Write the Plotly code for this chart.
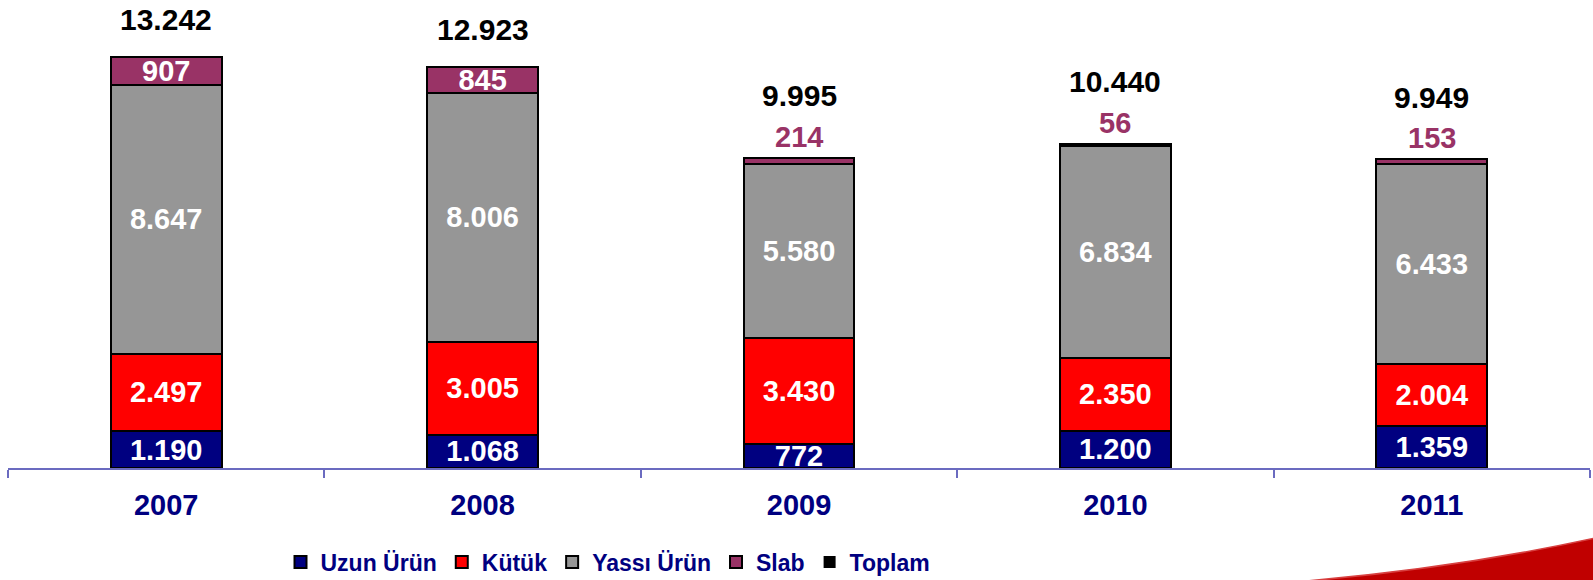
import plotly.graph_objects as go

years = ["2007", "2008", "2009", "2010", "2011"]
uzun = [1190, 1068, 772, 1200, 1359]
kutuk = [2497, 3005, 3430, 2350, 2004]
yassi = [8647, 8006, 5580, 6834, 6433]
slab = [907, 845, 214, 56, 153]
toplam = [13242, 12923, 9995, 10440, 9949]

NAVY = "#000080"
RED = "#FF0000"
GRAY = "#969696"
SLAB = "#993366"
FONT = "Liberation Sans, Arial, sans-serif"

W, H = 1593, 580
ML, MR, MT, MB = 8, 3, 10, 112
YMAX = 14755

fig = go.Figure()

def add_bar(name, vals, color, textpos="inside"):
    fig.add_trace(go.Bar(
        name=name, x=years, y=vals,
        marker=dict(color=color, line=dict(color="black", width=2)),
        width=0.35,
        texttemplate="%{y:,.0f}",
        textposition=textpos,
        insidetextanchor="middle",
        textfont=dict(family=FONT, size=29, color="white", weight="bold"),
        hoverinfo="skip",
    ))

add_bar("Uzun Ürün", uzun, NAVY)
add_bar("Kütük", kutuk, RED)
add_bar("Yassı Ürün", yassi, GRAY)

# slab labels inside when segment tall enough, else annotated above
slab_inside = [v >= 500 for v in slab]
add_bar("Slab", slab, SLAB, ["inside" if s else "none" for s in slab_inside])

fig.add_trace(go.Scatter(
    name="Toplam", x=years, y=toplam, mode="markers",
    marker=dict(color="black", size=1, symbol="square"),
    hoverinfo="skip",
))

def fmt(v):
    return f"{v:,}".replace(",", ".")

annotations = []
for i, (s, t, inside) in enumerate(zip(slab, toplam, slab_inside)):
    if not inside:
        annotations.append(dict(
            x=i, y=t, xref="x", yref="y", text=fmt(s),
            showarrow=False, yshift=21,
            font=dict(family=FONT, size=29, color=SLAB, weight="bold"),
        ))
    annotations.append(dict(
        x=i, y=t, xref="x", yref="y", text=fmt(t),
        showarrow=False, yshift=37 if inside else 62,
        font=dict(family=FONT, size=30, color="black", weight="bold"),
    ))

pw = W - ML - MR
ph = H - MT - MB
def px(x):
    return (x - ML) / pw
def py(y):
    return (H - MB - y) / ph

swoosh = (f"M {px(1282)},{py(583)} Q {px(1450)},{py(570)} {px(1600)},{py(537)} "
          f"L {px(1600)},{py(583)} Z")

fig.update_layout(
    width=W, height=H,
    margin=dict(l=ML, r=MR, t=MT, b=MB, autoexpand=False),
    barmode="stack",
    separators=",.",
    plot_bgcolor="white",
    paper_bgcolor="white",
    uniformtext=dict(minsize=29, mode="show"),
    xaxis=dict(
        type="category",
        range=[-0.5, 4.5], automargin=False,
        showline=True, linecolor="#6B6BC0", linewidth=1.5,
        ticks="outside", tickson="boundaries", ticklen=8, tickcolor="#6B6BC0",
        tickwidth=1.5,
        tickfont=dict(family=FONT, size=29, color=NAVY, weight="bold"),
        ticklabelstandoff=10,
        showgrid=False, zeroline=False,
    ),
    yaxis=dict(range=[0, YMAX], visible=False, showgrid=False, zeroline=False,
               automargin=False),
    legend=dict(
        orientation="h", x=px(608), y=py(562), xanchor="center", yanchor="middle",
        font=dict(family=FONT, size=23, color=NAVY, weight="bold"),
        itemsizing="constant", itemwidth=30, traceorder="normal",
        bgcolor="rgba(0,0,0,0)",
    ),
    annotations=annotations,
    shapes=[dict(type="path", path=swoosh, xref="paper", yref="paper",
                 fillcolor="#C00000", line=dict(color="#D84040", width=1.5),
                 layer="above")],
)

fig.write_html(
    "out.html",
    config={"displayModeBar": False},
    post_script="document.body.style.margin='0';document.body.style.padding='0';"
                "document.documentElement.style.overflow='hidden';",
)
